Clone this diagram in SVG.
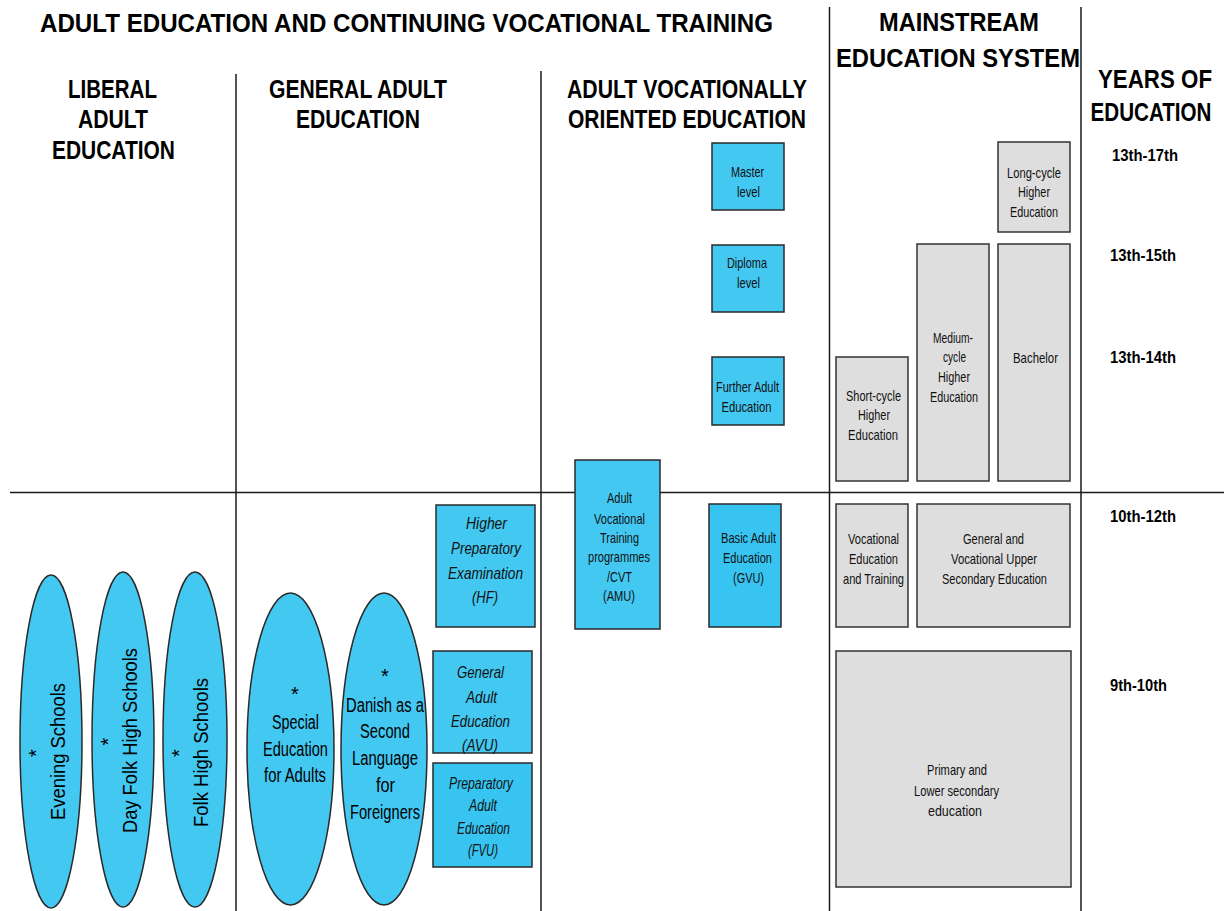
<svg xmlns="http://www.w3.org/2000/svg" width="1224" height="911" viewBox="0 0 1224 911">
  <style>
    text { font-family: "Liberation Sans", Arial, sans-serif; fill: #000; text-anchor: middle; }
    .hdr { font-weight: bold; font-size: 25px; }
    .title { font-weight: bold; font-size: 26px; }
    .yr { font-weight: bold; font-size: 16px; }
    .lbl { font-size: 15px; fill: #111; }
    .it { font-size: 17px; font-style: italic; fill: #111; }
    .big { font-size: 20px; }
    .blue { fill: #43c8f2; stroke: #2a2a2a; stroke-width: 1.5; }
    .grey { fill: #dedede; stroke: #333; stroke-width: 1.5; }
    .rule { stroke: #1a1a1a; stroke-width: 1.5; fill: none; }
  </style>
  <rect width="1224" height="911" fill="#fff"/>

  <!-- column and band rules -->
  <g id="rules">
    <line class="rule" x1="10" y1="492.5" x2="1224" y2="492.5"/>
    <line class="rule" x1="236" y1="74" x2="236" y2="911"/>
    <line class="rule" x1="541" y1="71" x2="541" y2="911"/>
    <line class="rule" x1="829.5" y1="7" x2="829.5" y2="911"/>
    <line class="rule" x1="1081" y1="7" x2="1081" y2="911"/>
  </g>

  <!-- headings -->
  <g id="headings">
    <text class="title" x="406.5" y="32" textLength="733" lengthAdjust="spacingAndGlyphs">ADULT EDUCATION AND CONTINUING VOCATIONAL TRAINING</text>
    <text class="hdr" x="112.5" y="98" textLength="89" lengthAdjust="spacingAndGlyphs">LIBERAL</text>
    <text class="hdr" x="113" y="128" textLength="70" lengthAdjust="spacingAndGlyphs">ADULT</text>
    <text class="hdr" x="113.5" y="159" textLength="123" lengthAdjust="spacingAndGlyphs">EDUCATION</text>
    <text class="hdr" x="358" y="98" textLength="178" lengthAdjust="spacingAndGlyphs">GENERAL ADULT</text>
    <text class="hdr" x="358" y="128" textLength="124" lengthAdjust="spacingAndGlyphs">EDUCATION</text>
    <text class="hdr" x="687" y="98" textLength="240" lengthAdjust="spacingAndGlyphs">ADULT VOCATIONALLY</text>
    <text class="hdr" x="687" y="128" textLength="238" lengthAdjust="spacingAndGlyphs">ORIENTED EDUCATION</text>
    <text class="hdr" x="959" y="31" textLength="160" lengthAdjust="spacingAndGlyphs">MAINSTREAM</text>
    <text class="hdr" x="958" y="67" textLength="244" lengthAdjust="spacingAndGlyphs">EDUCATION SYSTEM</text>
    <text class="hdr" x="1155" y="88" textLength="114" lengthAdjust="spacingAndGlyphs">YEARS OF</text>
    <text class="hdr" x="1151" y="121" textLength="121" lengthAdjust="spacingAndGlyphs">EDUCATION</text>
  </g>

  <!-- years of education -->
  <g id="years">
    <text class="yr" x="1145" y="161" textLength="66" lengthAdjust="spacingAndGlyphs">13th-17th</text>
    <text class="yr" x="1143" y="261" textLength="66" lengthAdjust="spacingAndGlyphs">13th-15th</text>
    <text class="yr" x="1143" y="363" textLength="66" lengthAdjust="spacingAndGlyphs">13th-14th</text>
    <text class="yr" x="1143" y="522" textLength="66" lengthAdjust="spacingAndGlyphs">10th-12th</text>
    <text class="yr" x="1138.5" y="691" textLength="57" lengthAdjust="spacingAndGlyphs">9th-10th</text>
  </g>

  <!-- liberal adult education -->
  <g id="evening-schools">
    <ellipse class="blue" cx="51" cy="741.5" rx="31" ry="166.5"/>
    <text class="big" transform="translate(43,753) rotate(-90)">*</text>
    <text class="big" transform="translate(65,751.5) rotate(-90)" textLength="137" lengthAdjust="spacingAndGlyphs">Evening Schools</text>
  </g>
  <g id="day-folk-high-schools">
    <ellipse class="blue" cx="123" cy="739.5" rx="31" ry="167.5"/>
    <text class="big" transform="translate(115,741.5) rotate(-90)">*</text>
    <text class="big" transform="translate(137,740.5) rotate(-90)" textLength="185" lengthAdjust="spacingAndGlyphs">Day Folk High Schools</text>
  </g>
  <g id="folk-high-schools">
    <ellipse class="blue" cx="195" cy="739.5" rx="32" ry="167.5"/>
    <text class="big" transform="translate(186,753) rotate(-90)">*</text>
    <text class="big" transform="translate(208,752.5) rotate(-90)" textLength="149" lengthAdjust="spacingAndGlyphs">Folk High Schools</text>
  </g>

  <!-- general adult education -->
  <g id="special-education">
    <ellipse class="blue" cx="290.5" cy="749" rx="43.5" ry="156"/>
    <text class="big" x="295" y="701">*</text>
    <text class="big" x="295.5" y="729" textLength="47" lengthAdjust="spacingAndGlyphs">Special</text>
    <text class="big" x="295.5" y="756" textLength="65" lengthAdjust="spacingAndGlyphs">Education</text>
    <text class="big" x="295" y="782" textLength="62" lengthAdjust="spacingAndGlyphs">for Adults</text>
  </g>
  <g id="danish-second-language">
    <ellipse class="blue" cx="384" cy="749" rx="43" ry="156"/>
    <text class="big" x="385" y="683">*</text>
    <text class="big" x="385" y="712" textLength="78" lengthAdjust="spacingAndGlyphs">Danish as a</text>
    <text class="big" x="385" y="738" textLength="50" lengthAdjust="spacingAndGlyphs">Second</text>
    <text class="big" x="385" y="765" textLength="66" lengthAdjust="spacingAndGlyphs">Language</text>
    <text class="big" x="385.5" y="792" textLength="19" lengthAdjust="spacingAndGlyphs">for</text>
    <text class="big" x="385" y="819" textLength="70" lengthAdjust="spacingAndGlyphs">Foreigners</text>
  </g>
  <g id="hf">
    <rect class="blue" x="436" y="505" width="99" height="122"/>
    <text class="it" x="486.5" y="529" textLength="41" lengthAdjust="spacingAndGlyphs">Higher</text>
    <text class="it" x="486" y="554" textLength="70" lengthAdjust="spacingAndGlyphs">Preparatory</text>
    <text class="it" x="485.5" y="579" textLength="75" lengthAdjust="spacingAndGlyphs">Examination</text>
    <text class="it" x="485" y="603" textLength="26" lengthAdjust="spacingAndGlyphs">(HF)</text>
  </g>
  <g id="avu">
    <rect class="blue" x="433" y="651" width="99" height="102"/>
    <text class="it" x="480.5" y="678" textLength="47" lengthAdjust="spacingAndGlyphs">General</text>
    <text class="it" x="481.5" y="703" textLength="31" lengthAdjust="spacingAndGlyphs">Adult</text>
    <text class="it" x="480.5" y="727" textLength="59" lengthAdjust="spacingAndGlyphs">Education</text>
    <text class="it" x="480" y="751" textLength="36" lengthAdjust="spacingAndGlyphs">(AVU)</text>
  </g>
  <g id="fvu">
    <rect class="blue" x="433" y="763" width="99" height="104" style="fill:#38c4f1"/>
    <text class="it" x="481" y="789" textLength="64" lengthAdjust="spacingAndGlyphs">Preparatory</text>
    <text class="it" x="483" y="811" textLength="28" lengthAdjust="spacingAndGlyphs">Adult</text>
    <text class="it" x="483.5" y="834" textLength="53" lengthAdjust="spacingAndGlyphs">Education</text>
    <text class="it" x="483" y="856" textLength="30" lengthAdjust="spacingAndGlyphs">(FVU)</text>
  </g>

  <!-- adult vocationally oriented education -->
  <g id="master-level">
    <rect class="blue" x="712" y="143" width="72" height="67"/>
    <text class="lbl" x="747.5" y="177" textLength="33" lengthAdjust="spacingAndGlyphs">Master</text>
    <text class="lbl" x="748.5" y="197" textLength="23" lengthAdjust="spacingAndGlyphs">level</text>
  </g>
  <g id="diploma-level">
    <rect class="blue" x="712" y="245" width="72" height="67"/>
    <text class="lbl" x="747" y="268" textLength="40" lengthAdjust="spacingAndGlyphs">Diploma</text>
    <text class="lbl" x="748.5" y="288" textLength="23" lengthAdjust="spacingAndGlyphs">level</text>
  </g>
  <g id="further-adult-education">
    <rect class="blue" x="712" y="357" width="72" height="68"/>
    <text class="lbl" x="747.5" y="392" textLength="63" lengthAdjust="spacingAndGlyphs">Further Adult</text>
    <text class="lbl" x="746.5" y="412" textLength="50" lengthAdjust="spacingAndGlyphs">Education</text>
  </g>
  <g id="amu">
    <rect class="blue" x="575" y="460" width="85" height="169"/>
    <text class="lbl" x="619.5" y="503" textLength="25" lengthAdjust="spacingAndGlyphs">Adult</text>
    <text class="lbl" x="619.5" y="524" textLength="51" lengthAdjust="spacingAndGlyphs">Vocational</text>
    <text class="lbl" x="619.5" y="543" textLength="39" lengthAdjust="spacingAndGlyphs">Training</text>
    <text class="lbl" x="619" y="562" textLength="62" lengthAdjust="spacingAndGlyphs">programmes</text>
    <text class="lbl" x="619.5" y="582" textLength="25" lengthAdjust="spacingAndGlyphs">/CVT</text>
    <text class="lbl" x="619" y="601" textLength="32" lengthAdjust="spacingAndGlyphs">(AMU)</text>
  </g>
  <g id="gvu">
    <rect class="blue" x="709" y="504" width="72" height="123" style="fill:#38c4f1"/>
    <text class="lbl" x="748.5" y="543" textLength="55" lengthAdjust="spacingAndGlyphs">Basic Adult</text>
    <text class="lbl" x="747.5" y="563" textLength="49" lengthAdjust="spacingAndGlyphs">Education</text>
    <text class="lbl" x="748.5" y="583" textLength="31" lengthAdjust="spacingAndGlyphs">(GVU)</text>
  </g>

  <!-- mainstream education system -->
  <g id="long-cycle">
    <rect class="grey" x="998" y="142" width="72" height="90"/>
    <text class="lbl" x="1034" y="178" textLength="54" lengthAdjust="spacingAndGlyphs">Long-cycle</text>
    <text class="lbl" x="1034" y="197" textLength="32" lengthAdjust="spacingAndGlyphs">Higher</text>
    <text class="lbl" x="1034" y="217" textLength="48" lengthAdjust="spacingAndGlyphs">Education</text>
  </g>
  <g id="bachelor">
    <rect class="grey" x="998" y="244" width="72" height="237"/>
    <text class="lbl" x="1035.5" y="363" textLength="45" lengthAdjust="spacingAndGlyphs">Bachelor</text>
  </g>
  <g id="medium-cycle">
    <rect class="grey" x="917" y="244" width="72" height="237"/>
    <text class="lbl" x="953" y="343" textLength="40" lengthAdjust="spacingAndGlyphs">Medium-</text>
    <text class="lbl" x="954.5" y="362" textLength="23" lengthAdjust="spacingAndGlyphs">cycle</text>
    <text class="lbl" x="954" y="382" textLength="32" lengthAdjust="spacingAndGlyphs">Higher</text>
    <text class="lbl" x="954" y="402" textLength="48" lengthAdjust="spacingAndGlyphs">Education</text>
  </g>
  <g id="short-cycle">
    <rect class="grey" x="836" y="357" width="72" height="124"/>
    <text class="lbl" x="873.5" y="401" textLength="55" lengthAdjust="spacingAndGlyphs">Short-cycle</text>
    <text class="lbl" x="874" y="420" textLength="32" lengthAdjust="spacingAndGlyphs">Higher</text>
    <text class="lbl" x="873" y="440" textLength="50" lengthAdjust="spacingAndGlyphs">Education</text>
  </g>
  <g id="vet">
    <rect class="grey" x="836" y="504" width="72" height="123"/>
    <text class="lbl" x="873.5" y="544" textLength="51" lengthAdjust="spacingAndGlyphs">Vocational</text>
    <text class="lbl" x="873.5" y="564" textLength="49" lengthAdjust="spacingAndGlyphs">Education</text>
    <text class="lbl" x="873.5" y="584" textLength="61" lengthAdjust="spacingAndGlyphs">and Training</text>
  </g>
  <g id="upper-secondary">
    <rect class="grey" x="917" y="504" width="153" height="123"/>
    <text class="lbl" x="993.5" y="544" textLength="61" lengthAdjust="spacingAndGlyphs">General and</text>
    <text class="lbl" x="994" y="564" textLength="86" lengthAdjust="spacingAndGlyphs">Vocational Upper</text>
    <text class="lbl" x="994.5" y="584" textLength="105" lengthAdjust="spacingAndGlyphs">Secondary Education</text>
  </g>
  <g id="primary-lower-secondary">
    <rect class="grey" x="836" y="651" width="235" height="236"/>
    <text class="lbl" x="957" y="775" textLength="60" lengthAdjust="spacingAndGlyphs">Primary and</text>
    <text class="lbl" x="956.5" y="796" textLength="85" lengthAdjust="spacingAndGlyphs">Lower secondary</text>
    <text class="lbl" x="955" y="816" textLength="54" lengthAdjust="spacingAndGlyphs">education</text>
  </g>
</svg>
